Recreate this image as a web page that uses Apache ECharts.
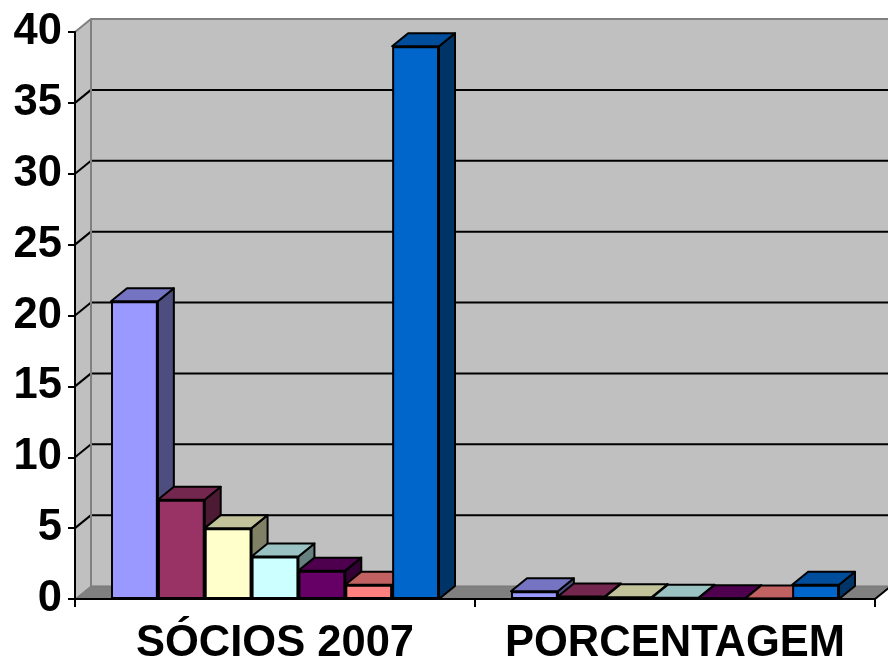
<!DOCTYPE html>
<html>
<head>
<meta charset="utf-8">
<style>html,body{margin:0;padding:0;background:#fff}#c{width:888px;height:668px}</style>
<script src="https://cdn.jsdelivr.net/npm/echarts@6/dist/echarts.min.js"></script>
</head>
<body>
<div id="c"></div>
<script>
var categories = ['SÓCIOS 2007', 'PORCENTAGEM'];
var bar1 = [21, 0.54];
var bar2 = [7, 0.18];
var bar3 = [5, 0.13];
var bar4 = [3, 0.08];
var bar5 = [2, 0.05];
var bar6 = [1, 0.03];
var bar7 = [39, 1];
var barSets = [bar1, bar2, bar3, bar4, bar5, bar6, bar7];
var barColors = ['#9999FF', '#993366', '#FFFFCC', '#CCFFFF', '#660066', '#FF8080', '#0066CC'];
var yTicks = [0, 5, 10, 15, 20, 25, 30, 35, 40];
var DX = 16, DY = -13, GAP = 0.18;

function shade(hex, f) {
  var n = parseInt(hex.slice(1), 16);
  var c = [(n >> 16) & 255, (n >> 8) & 255, n & 255].map(function (v) { return Math.round(v * f); });
  return 'rgb(' + c.join(',') + ')';
}
function wallItem(params, api) {
  var band = api.size([1, 0])[0];
  var c0 = api.coord([0, 0]), c1 = api.coord([1, 0]), top = api.coord([0, 40]);
  var L = c0[0] - band / 2, R = c1[0] + band / 2, B = c0[1], T = top[1];
  var kids = [];
  kids.push({ type: 'polygon', shape: { points: [[L + DX, T + DY], [R + DX, T + DY], [R + DX, B + DY], [L + DX, B + DY]] }, style: { fill: '#C0C0C0' } });
  kids.push({ type: 'polygon', shape: { points: [[L, T], [L + DX, T + DY], [L + DX, B + DY], [L, B]] }, style: { fill: '#C0C0C0' } });
  kids.push({ type: 'polygon', shape: { points: [[L, B], [L + DX, B + DY], [R + DX, B + DY], [R, B]] }, style: { fill: '#808080', stroke: '#777', lineWidth: 1 } });
  yTicks.forEach(function (t) {
    var y = api.coord([0, t])[1];
    if (t > 0 && t < 40) {
      kids.push({ type: 'line', shape: { x1: L + DX, y1: y + DY, x2: R + DX, y2: y + DY }, style: { stroke: '#000', lineWidth: 2 } });
      kids.push({ type: 'line', shape: { x1: L, y1: y, x2: L + DX, y2: y + DY }, style: { stroke: '#000', lineWidth: 2 } });
    }
  });
  kids.push({ type: 'polyline', shape: { points: [[L, T], [L + DX, T + DY], [R + DX, T + DY]] }, style: { stroke: '#808080', lineWidth: 2, fill: null } });
  kids.push({ type: 'line', shape: { x1: L + DX, y1: T + DY, x2: L + DX, y2: B + DY }, style: { stroke: '#808080', lineWidth: 2 } });
  kids.push({ type: 'line', shape: { x1: R, y1: B, x2: R + DX, y2: B + DY }, style: { stroke: '#000', lineWidth: 2 } });
  return { type: 'group', children: kids };
}
function depthItem(i) {
  return function (params, api) {
    var band = api.size([1, 0])[0];
    var w = band * (1 - GAP) / barSets.length;
    var c = api.coord([api.value(0), api.value(1)]);
    var b = api.coord([api.value(0), 0]);
    var x0 = c[0] - band * (1 - GAP) / 2 + i * w, x1 = x0 + w, y = c[1], by = b[1];
    var col = barColors[i];
    var st = function (f) { return { fill: shade(col, f), stroke: '#000', lineWidth: 2, lineJoin: 'round' }; };
    return { type: 'group', children: [
      { type: 'polygon', shape: { points: [[x1, y], [x1 + DX, y + DY], [x1 + DX, by + DY], [x1, by]] }, style: st(0.5) },
      { type: 'polygon', shape: { points: [[x0, y], [x0 + DX, y + DY], [x1 + DX, y + DY], [x1, y]] }, style: st(0.76) }
    ] };
  };
}
var series = [{
  type: 'custom', renderItem: wallItem, data: [[0, 0]], z: 1, silent: true, clip: false,
  encode: { x: 0, y: 1 }
}];
barSets.forEach(function (vals, i) {
  series.push({
    type: 'custom', renderItem: depthItem(i), z: 2, clip: false, silent: true,
    data: vals.map(function (v, k) { return [k, v]; }), encode: { x: 0, y: 1 }
  });
});
barSets.forEach(function (vals, i) {
  series.push({
    type: 'bar', data: vals, z: 3, barGap: '0%', barCategoryGap: '18%', silent: true,
    itemStyle: { color: barColors[i], borderColor: '#000', borderWidth: 2 }
  });
});
var chart = echarts.init(document.getElementById('c'), null, { renderer: 'canvas' });
chart.setOption({
  animation: false,
  backgroundColor: '#fff',
  grid: { left: 75, right: 13, top: 32, bottom: 69, containLabel: false },
  xAxis: {
    type: 'category', data: categories, z: 5,
    axisLine: { lineStyle: { color: '#000', width: 2 } },
    axisTick: { show: true, length: 8, alignWithLabel: false, lineStyle: { color: '#000', width: 2 } },
    axisLabel: { color: '#000', fontFamily: 'Liberation Sans', fontWeight: 'bold', fontSize: 43.5, margin: 23, interval: 0 }
  },
  yAxis: {
    type: 'value', min: 0, max: 40, interval: 5, z: 5,
    axisLine: { show: true, lineStyle: { color: '#000', width: 2 } },
    axisTick: { show: true, length: 7, lineStyle: { color: '#000', width: 2 } },
    splitLine: { show: false },
    axisLabel: { color: '#000', fontFamily: 'Liberation Sans', fontWeight: 'bold', fontSize: 43.5, margin: 13 }
  },
  series: series
});
</script>
</body>
</html>
